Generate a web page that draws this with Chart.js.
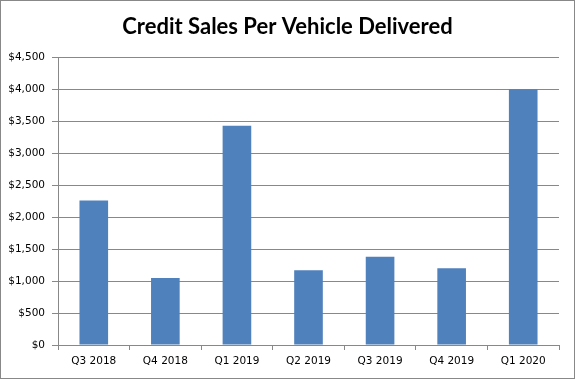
<!DOCTYPE html>
<html>
<head>
<meta charset="utf-8">
<script src="https://cdn.jsdelivr.net/npm/chart.js@4"></script>
<style>
    html, body { margin: 0; padding: 0; background: #fff; }
    #wrap {
        width: 575px; height: 379px; box-sizing: border-box;
        border: 1px solid #888; background: #fff;
    }
    canvas { display: block; }
</style>
</head>
<body>
<div id="wrap"><canvas id="chart" width="573" height="377"></canvas></div>
<script>
// kategoriler ve degerler
const quarters = ['Q3 2018', 'Q4 2018', 'Q1 2019', 'Q2 2019', 'Q3 2019', 'Q4 2019', 'Q1 2020'];
const creditSales = [2260, 1050, 3430, 1170, 1380, 1200, 4000];
const yTicks = [0, 500, 1000, 1500, 2000, 2500, 3000, 3500, 4000, 4500];

const gridColor = '#888888';
const tickFont = { family: 'DejaVu Sans', size: 10.5 };

const ctx = document.getElementById('chart').getContext('2d');

new Chart(ctx, {
    type: 'bar',
    data: {
        labels: quarters,
        datasets: [{
            label: 'Credit Sales Per Vehicle Delivered',
            data: creditSales,
            backgroundColor: '#4F81BD',
            borderWidth: 0,
            categoryPercentage: 1,
            barPercentage: 0.4
        }]
    },
    options: {
        responsive: false,
        animation: false,
        layout: { padding: 0 },
        plugins: {
            legend: { display: false },
            tooltip: { enabled: false },
            title: {
                display: true,
                text: 'Credit Sales Per Vehicle Delivered',
                color: '#000',
                font: { family: 'Lato', size: 22, weight: 'bold' },
                padding: { top: 13, bottom: 17 }
            }
        },
        scales: {
            x: {
                grid: {
                    display: true,
                    drawOnChartArea: false,
                    offset: true,
                    color: gridColor,
                    tickLength: 5
                },
                border: { color: gridColor },
                ticks: { color: '#000', font: tickFont, padding: 5, maxRotation: 0 },
                afterFit: (scale) => { scale.height = 33; }
            },
            y: {
                min: 0,
                max: 4500,
                afterBuildTicks: (scale) => {
                    scale.ticks = yTicks.map(v => ({ value: v }));
                },
                grid: { color: gridColor, tickLength: 6 },
                border: { color: gridColor },
                ticks: {
                    color: '#000',
                    font: tickFont,
                    padding: 7,
                    callback: (v) => '$' + v.toLocaleString('en-US')
                },
                afterFit: (scale) => { scale.width = 57; }
            },
            // sag tarafta bos alan icin gorunmez eksen
            yRight: {
                position: 'right',
                grid: { display: false },
                border: { display: false },
                ticks: { display: false },
                afterFit: (scale) => { scale.width = 15; }
            }
        }
    }
});
</script>
</body>
</html>
